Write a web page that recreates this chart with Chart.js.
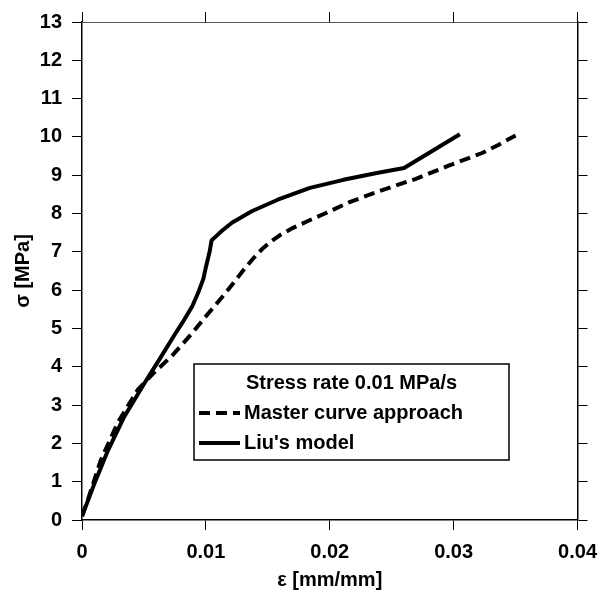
<!DOCTYPE html>
<html>
<head>
<meta charset="utf-8">
<script src="https://cdn.jsdelivr.net/npm/chart.js@4.4.1/dist/chart.umd.min.js"></script>
<style>
  html, body { margin: 0; padding: 0; background: #ffffff; }
  #wrap { width: 607px; height: 592px; position: relative; }
</style>
</head>
<body>
<div id="wrap"><canvas id="c" width="607" height="592"></canvas></div>
<script>
// ---- data ----
const legendTitle = "Stress rate 0.01 MPa/s";
const seriesNames = ["Master curve approach", "Liu's model"];

const strainMaster = [0, 0.0005, 0.0015, 0.0029, 0.0045, 0.0057, 0.0073, 0.0089, 0.0099, 0.0115, 0.0131, 0.0138, 0.0145, 0.0152, 0.0160, 0.0170, 0.0182, 0.0196, 0.0216, 0.0243, 0.0269, 0.0296, 0.0323, 0.0336, 0.0350];
const stressMaster = [0.1, 0.55, 1.55, 2.55, 3.4, 3.81, 4.3, 4.88, 5.28, 5.89, 6.55, 6.82, 7.06, 7.26, 7.44, 7.62, 7.8, 8.0, 8.3, 8.62, 8.9, 9.25, 9.58, 9.79, 10.04];

const strainLiu = [0, 0.0010, 0.0021, 0.0034, 0.0050, 0.0063, 0.0075, 0.0082, 0.0089, 0.0094, 0.0098, 0.0100, 0.0103, 0.01046, 0.0113, 0.0121, 0.0137, 0.0158, 0.0184, 0.0211, 0.0238, 0.0260, 0.0305];
const stressLiu = [0.1, 0.95, 1.82, 2.69, 3.55, 4.22, 4.85, 5.2, 5.58, 5.95, 6.3, 6.6, 7.0, 7.3, 7.55, 7.76, 8.06, 8.36, 8.67, 8.88, 9.06, 9.19, 10.07];

const xTicks = [0, 0.01, 0.02, 0.03, 0.04];
const yTicks = [0, 1, 2, 3, 4, 5, 6, 7, 8, 9, 10, 11, 12, 13];

const xTitle = "ε [mm/mm]";
const yTitle = "σ [MPa]";

// ---- chart ----
const FONT = "'Liberation Sans', Arial, Helvetica, sans-serif";
const toPts = (xs, ys) => xs.map((x, i) => ({ x: x, y: ys[i] }));

const legendPlugin = {
  id: 'boxLegend',
  afterDraw(chart) {
    const ctx = chart.ctx;
    const ca = chart.chartArea;
    const left = ca.left + 112, top = ca.top + 342, w = 315, h = 96;
    ctx.save();
    ctx.fillStyle = '#fff';
    ctx.fillRect(left, top, w, h);
    ctx.strokeStyle = '#000';
    ctx.lineWidth = 1.5;
    ctx.strokeRect(left, top, w, h);
    ctx.fillStyle = '#000';
    ctx.font = "bold 20px " + FONT;
    ctx.textBaseline = 'middle';
    ctx.textAlign = 'center';
    ctx.fillText(legendTitle, left + w / 2, top + 19);
    ctx.textAlign = 'left';
    chart.data.datasets.forEach((ds, i) => {
      const y = top + 49 + i * 30;
      ctx.beginPath();
      ctx.setLineDash(ds.borderDash || []);
      ctx.lineWidth = ds.borderWidth;
      ctx.strokeStyle = ds.borderColor;
      ctx.moveTo(left + 5, y);
      ctx.lineTo(left + 46, y);
      ctx.stroke();
      ctx.setLineDash([]);
      ctx.fillText(ds.label, left + 50, y);
    });
    ctx.restore();
  }
};

const axisCommon = {
  type: 'linear',
  grid: { drawOnChartArea: false, drawTicks: true, tickLength: 10, color: '#000', lineWidth: 1 },
  border: { display: true, color: '#000', width: 1.5 },
};

new Chart(document.getElementById('c'), {
  type: 'scatter',
  data: {
    datasets: [
      {
        label: seriesNames[0],
        data: toPts(strainMaster, stressMaster),
        showLine: true,
        borderColor: '#000',
        backgroundColor: '#000',
        borderWidth: 4,
        borderDash: [11, 6],
        pointRadius: 0,
        tension: 0,
        borderCapStyle: 'butt'
      },
      {
        label: seriesNames[1],
        data: toPts(strainLiu, stressLiu),
        showLine: true,
        borderColor: '#000',
        backgroundColor: '#000',
        borderWidth: 4,
        pointRadius: 0,
        tension: 0,
        borderJoinStyle: 'round'
      }
    ]
  },
  options: {
    responsive: false,
    animation: false,
    devicePixelRatio: 1,
    layout: { padding: 0 },
    plugins: { legend: { display: false }, tooltip: { enabled: false } },
    scales: {
      x: Object.assign({}, axisCommon, {
        position: 'bottom',
        min: xTicks[0], max: xTicks[xTicks.length - 1],
        afterBuildTicks: s => { s.ticks = xTicks.map(v => ({ value: v })); },
        ticks: { color: '#000', padding: 10, maxRotation: 0, font: { family: FONT, size: 20, weight: 'bold' },
                 callback: v => (v === 0 ? '0' : String(v)) },
        title: { display: true, text: xTitle, color: '#000', font: { family: FONT, size: 20, weight: 'bold' }, padding: { top: 2, bottom: 0 } },
        afterFit: s => { s.height = 72; }
      }),
      y: Object.assign({}, axisCommon, {
        position: 'left',
        min: yTicks[0], max: yTicks[yTicks.length - 1],
        afterBuildTicks: s => { s.ticks = yTicks.map(v => ({ value: v })); },
        ticks: { color: '#000', padding: 10, font: { family: FONT, size: 20, weight: 'bold' } },
        title: { display: true, text: yTitle, color: '#000', font: { family: FONT, size: 20, weight: 'bold' }, padding: { top: 11, bottom: 0 } },
        afterFit: s => { s.width = 82; }
      }),
      x2: Object.assign({}, axisCommon, {
        position: 'top',
        min: xTicks[0], max: xTicks[xTicks.length - 1],
        afterBuildTicks: s => { s.ticks = xTicks.map(v => ({ value: v })); },
        ticks: { display: false },
        border: { display: true, color: '#555', width: 1 },
        afterFit: s => { s.height = 20; }
      }),
      y2: Object.assign({}, axisCommon, {
        position: 'right',
        min: yTicks[0], max: yTicks[yTicks.length - 1],
        afterBuildTicks: s => { s.ticks = yTicks.map(v => ({ value: v })); },
        ticks: { display: false },
        afterFit: s => { s.width = 23; }
      })
    }
  },
  plugins: [legendPlugin]
});
</script>
</body>
</html>
